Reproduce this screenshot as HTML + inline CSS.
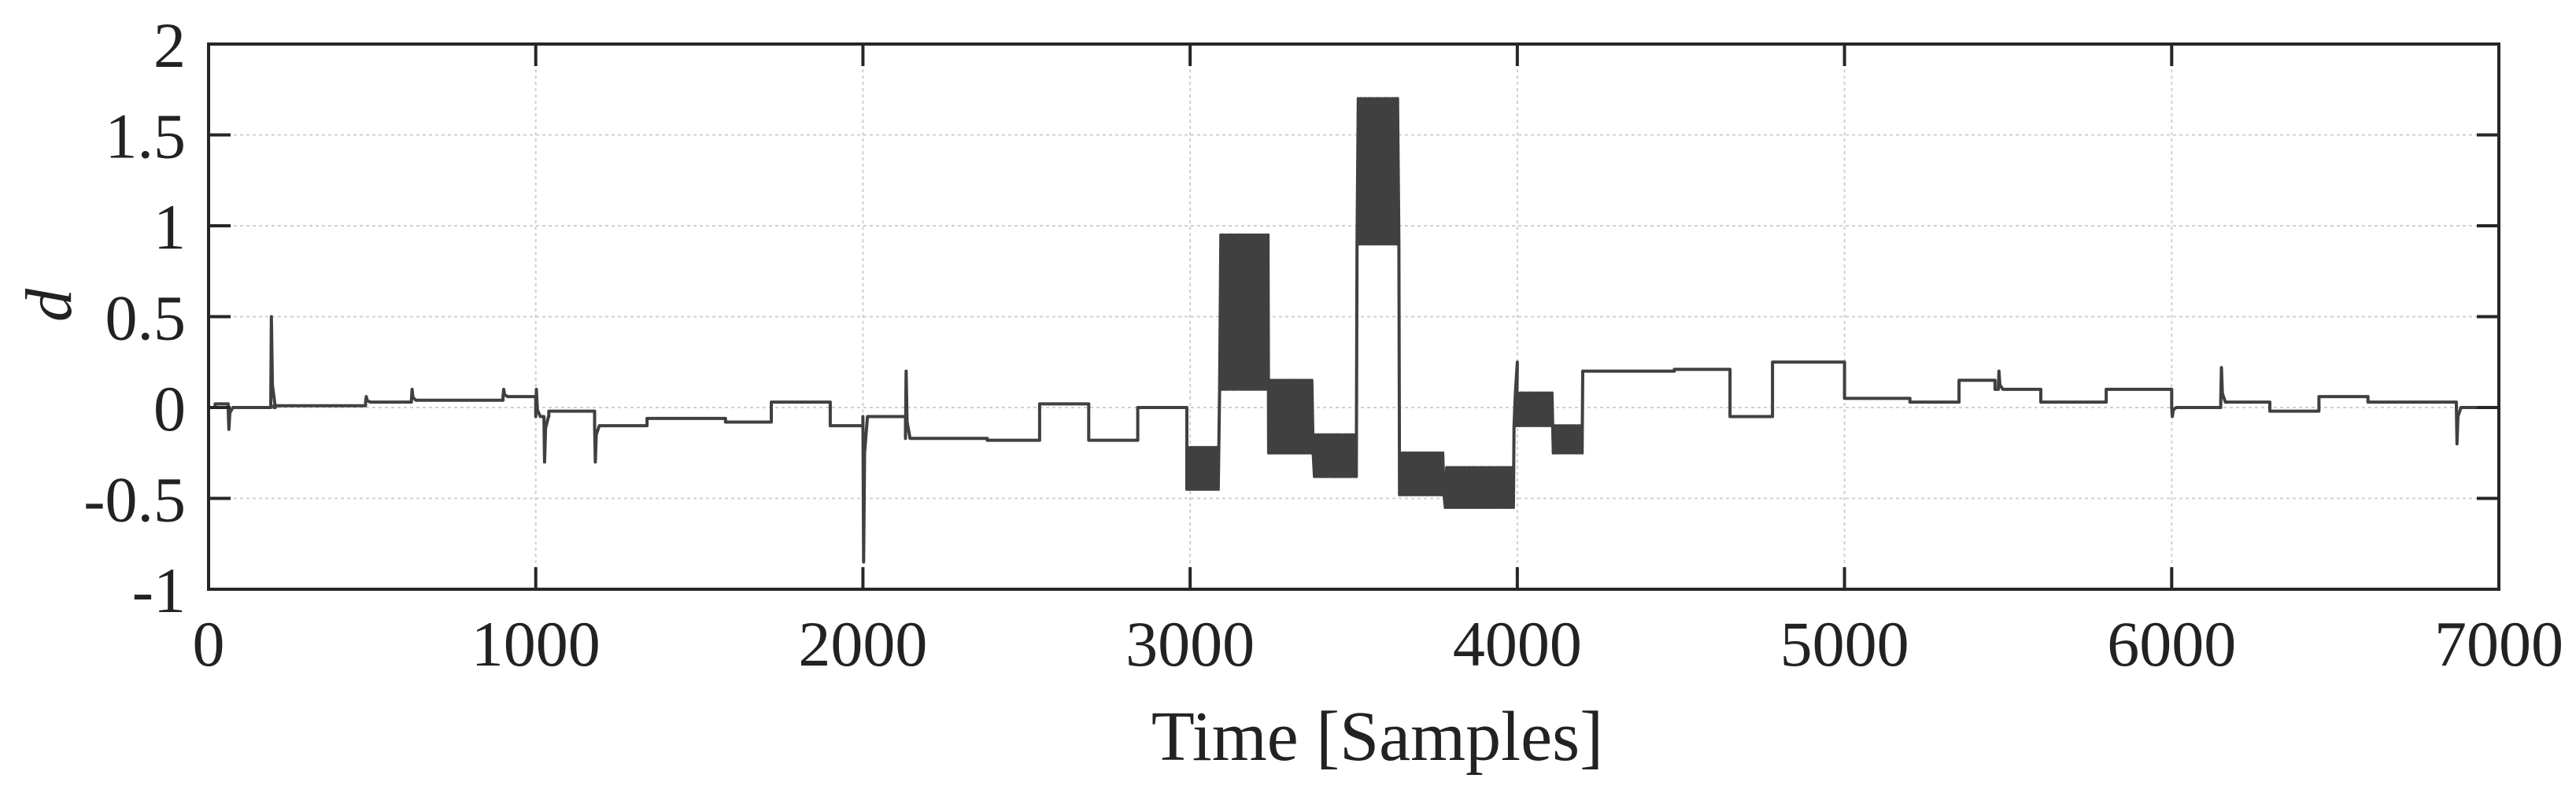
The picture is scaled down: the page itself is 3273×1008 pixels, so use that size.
<!DOCTYPE html>
<html><head><meta charset="utf-8"><style>
html,body{margin:0;padding:0;background:#fff;}
svg{display:block;}
text{font-family:"Liberation Serif",serif;fill:#222;}
</style></head><body>
<svg id="chart" width="3273" height="1008">
</svg>
<script>
// Piecewise-constant levels: [start, end, value]
const segStart = [0,20,60,200,480,620,900,1000,1040,1180,1340,1580,1720,1900,2000,2130,2380,2540,2690,2840,4200,4480,4650,4780,5000,5200,5350,5460,5600,5800,6000,6150,6300,6450,6600,6870];
const segEnd   = [20,60,200,480,620,900,1000,1040,1180,1340,1580,1720,1900,2000,2130,2380,2540,2690,2840,2990,4480,4650,4780,5000,5200,5350,5460,5600,5800,6000,6150,6300,6450,6600,6870,7000];
const segValue = [0,0.02,0,0.01,0.03,0.04,0.06,-0.05,-0.02,-0.1,-0.06,-0.08,0.03,-0.1,-0.05,-0.17,-0.18,0.02,-0.18,0.0,0.2,0.21,-0.05,0.25,0.05,0.03,0.15,0.1,0.03,0.1,0.0,0.03,-0.02,0.06,0.03,0.0];
// Oscillating regions: [start, end, low, high]
const oscStart = [2990,3090,3240,3380,3510,3640,3780,3990,4110];
const oscEnd   = [3090,3240,3380,3510,3640,3780,3990,4110,4200];
const oscLow   = [-0.45,0.1,-0.25,-0.38,0.9,-0.48,-0.55,-0.1,-0.25];
const oscHigh  = [-0.22,0.95,0.15,-0.15,1.7,-0.25,-0.33,0.08,-0.1];
// Spikes: sample, peak value
const spikeX = [60,190,480,620,900,1000,1025,1180,2000,2130,4000,5470,6000,6150,6870];
const spikeV = [-0.12,0.5,0.06,0.1,0.1,0.1,-0.3,-0.3,-0.85,0.2,0.25,0.2,-0.05,0.22,-0.2];
const xTicks = [0,1000,2000,3000,4000,5000,6000,7000];
const yTicks = [-1,-0.5,0,0.5,1,1.5,2];
const yTickLabels = ["-1","-0.5","0","0.5","1","1.5","2"];

const L=265,R=3175,T=56,B=749;
const sx=v=>L+(v-0)/(7000)*(R-L);
const sy=v=>B-(v+1)/3*(B-T);
const svg=document.getElementById('chart');
const NS='http://www.w3.org/2000/svg';
function mk(tag,attrs,parent){const e=document.createElementNS(NS,tag);for(const k in attrs)e.setAttribute(k,attrs[k]);(parent||svg).appendChild(e);return e;}

const grid=mk('g',{});


xTicks.forEach(t=>{if(t>0&&t<7000)mk('line',{x1:sx(t),x2:sx(t),y1:T,y2:B,stroke:'#d0d0d0','stroke-width':2,'stroke-dasharray':'4 4'},grid);});
yTicks.forEach(t=>{if(t>-1&&t<2)mk('line',{x1:L,x2:R,y1:sy(t),y2:sy(t),stroke:'#d0d0d0','stroke-width':2,'stroke-dasharray':'4 4'},grid);});

// build line points (events in time order, no global sort)
let pts=[];
const evts=[];
segStart.forEach((s,i)=>evts.push({s,e:segEnd[i],type:'seg',i}));
oscStart.forEach((s,i)=>evts.push({s,e:oscEnd[i],type:'osc',i}));
evts.sort((a,b)=>a.s-b.s);
evts.forEach(ev=>{
  if(ev.type==='seg'){
    const v=segValue[ev.i];
    pts.push([ev.s,v]);
    spikeX.forEach((x,j)=>{if(x>=ev.s&&x<ev.e){pts.push([x,v]);pts.push([x+2,spikeV[j]]);pts.push([x+5,v+(spikeV[j]-v)*0.25]);pts.push([x+14,v]);}});
    pts.push([ev.e,v]);
  } else {
    const lo=oscLow[ev.i],hi=oscHigh[ev.i];
    let k=0;
    for(let x=ev.s;x<ev.e;x+=4){
      spikeX.forEach((sxv,j)=>{if(sxv>=x&&sxv<x+4)pts.push([sxv,spikeV[j]]);});
      pts.push([x,k%2?hi:lo]);k++;
    }
  }
});
const line=mk('path',{d:'M'+pts.map(p=>sx(p[0]).toFixed(1)+','+sy(p[1]).toFixed(1)).join('L'),fill:'none',stroke:'#404040','stroke-width':4,'stroke-linejoin':'round'});



const axes=mk('g',{});


mk('rect',{x:L,y:T,width:R-L,height:B-T,fill:'none',stroke:'#262626','stroke-width':4},axes);
xTicks.forEach(t=>{
  mk('line',{x1:sx(t),x2:sx(t),y1:B,y2:B-28,stroke:'#262626','stroke-width':4},axes);
  mk('line',{x1:sx(t),x2:sx(t),y1:T,y2:T+28,stroke:'#262626','stroke-width':4},axes);
  const tx=mk('text',{x:sx(t),y:846,'text-anchor':'middle','font-size':82},axes);
  tx.textContent=t;
  
  
});
yTicks.forEach((t,i)=>{
  mk('line',{x1:L,x2:L+28,y1:sy(t),y2:sy(t),stroke:'#262626','stroke-width':4},axes);
  mk('line',{x1:R,x2:R-28,y1:sy(t),y2:sy(t),stroke:'#262626','stroke-width':4},axes);
  const ty=mk('text',{x:236,y:sy(t)+29,'text-anchor':'end','font-size':82},axes);
  ty.textContent=yTickLabels[i];
  
  
});
const xt=mk('text',{x:(L+R)/2+30,y:966,'text-anchor':'middle','font-size':90});
xt.textContent='Time [Samples]';


const yt=mk('text',{x:0,y:0,'text-anchor':'middle','font-size':84,'font-style':'italic',transform:'translate(90,388) rotate(-90)'});
yt.textContent='d';


</script>
</body></html>
